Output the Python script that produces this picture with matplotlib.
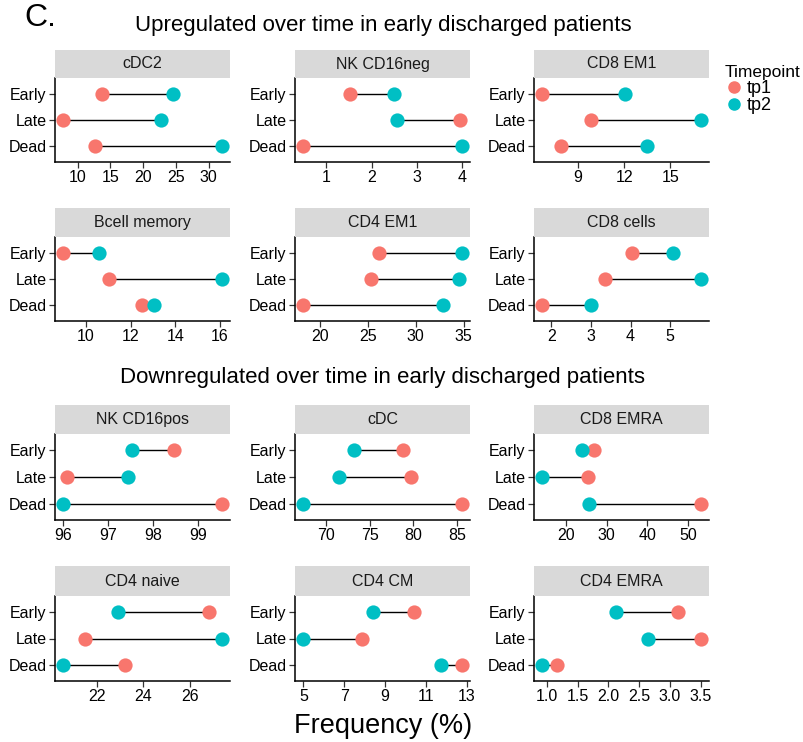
import matplotlib
matplotlib.use("Agg")
import matplotlib.pyplot as plt
from matplotlib.lines import Line2D

plt.rcParams['font.family'] = ['Liberation Sans', 'DejaVu Sans']

groups = ["Early", "Late", "Dead"]

panels_up = ["cDC2", "NK CD16neg", "CD8 EM1", "Bcell memory", "CD4 EM1", "CD8 cells"]
panels_down = ["NK CD16pos", "cDC", "CD8 EMRA", "CD4 naive", "CD4 CM", "CD4 EMRA"]

# tp1 and tp2 values for Early, Late, Dead
tp1 = {
    "cDC2": [13.7, 7.75, 12.6],
    "NK CD16neg": [1.53, 3.96, 0.48],
    "CD8 EM1": [6.66, 9.83, 7.89],
    "Bcell memory": [8.97, 11.01, 12.50],
    "CD4 EM1": [26.2, 25.36, 18.22],
    "CD8 cells": [4.03, 3.35, 1.76],
    "NK CD16pos": [98.46, 96.07, 99.53],
    "cDC": [78.78, 79.72, 85.57],
    "CD8 EMRA": [27.0, 25.4, 53.2],
    "CD4 naive": [26.81, 21.47, 23.22],
    "CD4 CM": [10.43, 7.87, 12.76],
    "CD4 EMRA": [3.13, 3.505, 1.17],
}
tp2 = {
    "cDC2": [24.5, 22.8, 32.05],
    "NK CD16neg": [2.49, 2.57, 4.0],
    "CD8 EM1": [12.03, 16.99, 13.48],
    "Bcell memory": [10.59, 16.09, 13.03],
    "CD4 EM1": [34.83, 34.55, 32.81],
    "CD8 cells": [5.07, 5.78, 3.01],
    "NK CD16pos": [97.52, 97.43, 95.99],
    "cDC": [73.17, 71.47, 67.36],
    "CD8 EMRA": [23.87, 14.11, 25.56],
    "CD4 naive": [22.93, 27.39, 20.54],
    "CD4 CM": [8.40, 4.98, 11.73],
    "CD4 EMRA": [2.125, 2.64, 0.92],
}
xticks = {
    "cDC2": [10, 15, 20, 25, 30],
    "NK CD16neg": [1, 2, 3, 4],
    "CD8 EM1": [9, 12, 15],
    "Bcell memory": [10, 12, 14, 16],
    "CD4 EM1": [20, 25, 30, 35],
    "CD8 cells": [2, 3, 4, 5],
    "NK CD16pos": [96, 97, 98, 99],
    "cDC": [70, 75, 80, 85],
    "CD8 EMRA": [20, 30, 40, 50],
    "CD4 naive": [22, 24, 26],
    "CD4 CM": [5, 7, 9, 11, 13],
    "CD4 EMRA": [1.0, 1.5, 2.0, 2.5, 3.0, 3.5],
}
xtick_fmt = {"CD4 EMRA": "{:.1f}"}

C1 = "#F8766D"
C2 = "#00BFC4"

W, H = 804, 742
fig = plt.figure(figsize=(W / 100, H / 100), dpi=100)

col_x = [(55, 230), (295, 470), (534, 709)]
# (strip_top, strip_bottom/axes_top, axes_bottom)
row_y = [(50, 78, 162), (208, 237, 321), (405, 434, 520), (566, 596, 681)]

def px_rect(x0, x1, y0, y1):
    return [x0 / W, 1 - y1 / H, (x1 - x0) / W, (y1 - y0) / H]

def draw_panel(name, r, c):
    x0, x1 = col_x[c]
    st, at, ab = row_y[r]
    ax = fig.add_axes(px_rect(x0, x1, at, ab))
    sax = fig.add_axes(px_rect(x0, x1, st, at))
    sax.set_facecolor("#D9D9D9")
    for s in sax.spines.values():
        s.set_visible(False)
    sax.set_xticks([]); sax.set_yticks([])
    sax.text(0.5, 0.5, name, ha="center", va="center", fontsize=11.5,
             color="#1A1A1A", transform=sax.transAxes)

    ypos = [3, 2, 1]
    a = tp1[name]; b = tp2[name]
    for y, v1, v2 in zip(ypos, a, b):
        ax.plot([v1, v2], [y, y], color="black", lw=1.0, zorder=1)
    ax.scatter(a, ypos, s=105, color=C1, zorder=3, linewidths=0)
    ax.scatter(b, ypos, s=105, color=C2, zorder=3, linewidths=0)

    lo = min(a + b); hi = max(a + b); rng = hi - lo
    ax.set_xlim(lo - 0.05 * rng, hi + 0.05 * rng)
    ax.set_ylim(0.4, 3.6)
    ax.set_yticks(ypos)
    ax.set_yticklabels(groups)
    ticks = xticks[name]
    ax.set_xticks(ticks)
    fmt = xtick_fmt.get(name, "{:g}")
    ax.set_xticklabels([fmt.format(t) for t in ticks])
    for s in ["top", "right"]:
        ax.spines[s].set_visible(False)
    for s in ["left", "bottom"]:
        ax.spines[s].set_linewidth(1.1)
        ax.spines[s].set_color("black")
    ax.tick_params(axis="both", labelsize=11.5, length=4, width=0.9,
                   color="#333333", labelcolor="black", pad=2)
    ax.set_facecolor("white")

for i, n in enumerate(panels_up):
    draw_panel(n, i // 3, i % 3)
for i, n in enumerate(panels_down):
    draw_panel(n, 2 + i // 3, i % 3)

fig.text(24 / W, 1 - 18 / H, "C.", fontsize=23, ha="left", va="center")
fig.text(383 / W, 1 - 26 / H, "Upregulated over time in early discharged patients",
         fontsize=16, ha="center", va="center")
fig.text(383 / W, 1 - 377 / H, "Downregulated over time in early discharged patients",
         fontsize=16, ha="center", va="center")
fig.text(383 / W, 1 - 726 / H, "Frequency (%)", fontsize=19.5, ha="center", va="center")

handles = [Line2D([], [], marker="o", ls="", color=C1, markersize=8),
           Line2D([], [], marker="o", ls="", color=C2, markersize=8)]
leg = fig.legend(handles, ["tp1", "tp2"], title="Timepoint",
                 loc="upper left", bbox_to_anchor=(714 / W, 1 - 54 / H),
                 frameon=False, fontsize=13, title_fontsize=12.5,
                 handletextpad=0.2, handlelength=1.0, labelspacing=0.0,
                 borderpad=0.1)
leg._legend_box.align = "left"

fig.savefig("out.png", dpi=100, facecolor="white")
